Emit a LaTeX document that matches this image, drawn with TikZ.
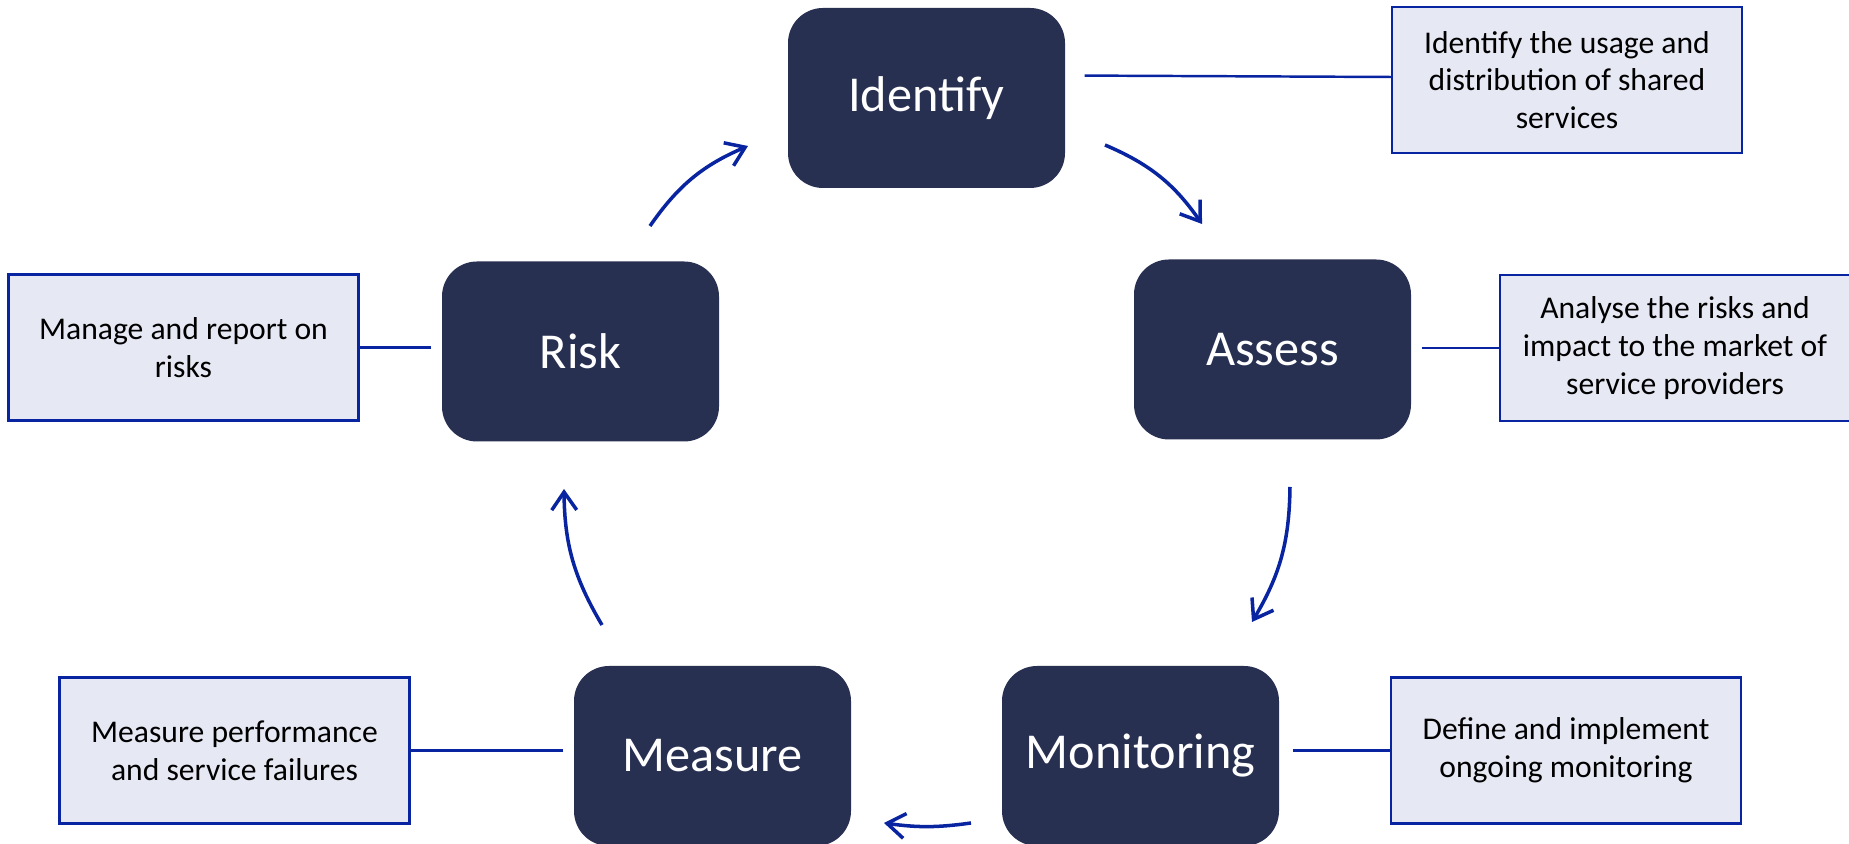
\documentclass[tikz,border=0pt]{standalone}
\usepackage{fontspec}
\setmainfont{Carlito}
\usetikzlibrary{arrows.meta,positioning}
\definecolor{navy}{RGB}{40,48,82}
\definecolor{paleblue}{RGB}{230,232,244}
\definecolor{edgeblue}{RGB}{8,36,160}
\begin{document}
\begin{tikzpicture}[
    stage/.style={rectangle,rounded corners=0.35cm,fill=navy,text=white,minimum width=2.77cm,minimum height=1.8cm,font=\fontsize{14.3}{17}\selectfont},
    note/.style={rectangle,draw=edgeblue,line width=0.7pt,fill=paleblue,minimum width=3.5cm,minimum height=1.46cm,align=center,font=\fontsize{9}{10.7}\selectfont},
    link/.style={draw=edgeblue,line width=0.7pt},
    flow/.style={draw=edgeblue,line width=1pt,-{Straight Barb[length=1.8mm,width=2.5mm]}}]
    \useasboundingbox (0,0) rectangle (18.49,-8.44);
    % the five stages
    \node[stage] (identify) at (9.265,-0.98) {Identify};
    \node[stage] (assess) at (12.725,-3.495) {Assess};
    \node[stage] (monitoring) at (11.405,-7.56) {Monitoring};
    \node[stage] (measure) at (7.125,-7.56) {Measure};
    \node[stage] (risk) at (5.805,-3.515) {Risk};
    % notes
    \node[note] (idNote) at (15.67,-0.80) {Identify the usage and\\distribution of shared\\services};
    \node[note] (asNote) at (16.75,-3.48) {Analyse the risks and\\impact to the market of\\service providers};
    \node[note] (moNote) at (15.66,-7.505) {Define and implement\\ongoing monitoring};
    \node[note] (meNote) at (2.345,-7.505) {Measure performance\\and service failures};
    \node[note] (riNote) at (1.835,-3.475) {Manage and report on\\risks};
    \draw[link,shorten <=0.19cm] ([yshift=0.045cm]identify.east |- idNote.west) -- ([yshift=0.03cm]idNote.west);
    \draw[link,shorten <=0.1cm] (assess.east |- asNote.west) -- (asNote.west);
    \draw[link,shorten <=0.13cm] (monitoring.east |- moNote.west) -- (moNote.west);
    \draw[link,shorten <=0.1cm] (measure.west |- meNote.east) -- (meNote.east);
    \draw[link,shorten <=0.1cm] (risk.west |- riNote.east) -- (riNote.east);
    % cycle arrows
    \coordinate (riTail) at (6.50,-2.26); \coordinate (idHead) at (7.48,-1.46);
    \coordinate (idTail) at (11.05,-1.45); \coordinate (asHead) at (12.02,-2.24);
    \coordinate (asTail) at (12.90,-4.87); \coordinate (moHead) at (12.52,-6.22);
    \coordinate (moTail) at (9.71,-8.23); \coordinate (meHead) at (8.84,-8.23);
    \coordinate (meTail) at (6.02,-6.25); \coordinate (riHead) at (5.64,-4.89);
    \draw[flow] (riTail) to[bend left=16] (idHead);
    \draw[flow] (idTail) to[bend left=16] (asHead);
    \draw[flow] (asTail) to[bend left=15] (moHead);
    \draw[flow] (moTail) to[bend left=8] (meHead);
    \draw[flow] (meTail) to[bend left=15] (riHead);
\end{tikzpicture}
\end{document}
